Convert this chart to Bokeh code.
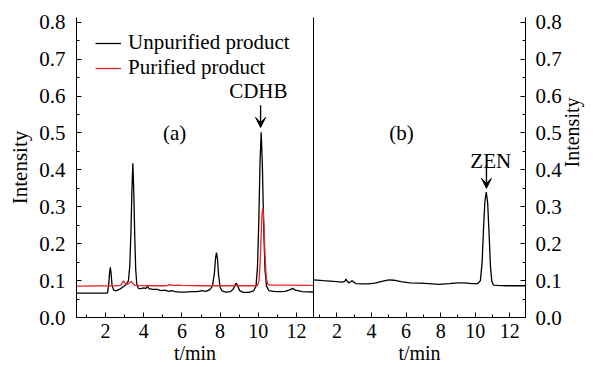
from bokeh.plotting import figure
from bokeh.layouts import row
from bokeh.models import (Range1d, LinearAxis, SingleIntervalTicker, FixedTicker, Label,
                          Arrow, VeeHead, Legend, LegendItem, NumeralTickFormatter)
from bokeh.embed import file_html
from bokeh.resources import INLINE
import math

FONT = "Liberation Serif"
FS = "21px"
FSX = "20px"

# ---- data: panel (a) ----
unpur_t = [0.48, 2.10, 2.16, 2.21, 2.25, 2.29, 2.34, 2.42, 2.55, 2.75, 2.95, 3.10, 3.20, 3.27,
           3.33, 3.38, 3.43, 3.48, 3.53, 3.58, 3.64, 3.72, 3.85, 4.00, 4.12, 4.20, 4.28, 4.45,
           4.70, 4.90, 5.10, 5.30, 5.45, 5.65, 5.90, 6.20, 6.50, 6.80, 7.05, 7.25, 7.45, 7.60,
           7.70, 7.76, 7.81, 7.86, 7.92, 8.00, 8.10, 8.30, 8.55, 8.70, 8.80, 8.85, 8.92, 9.02,
           9.20, 9.50, 9.75, 9.88, 9.96, 10.03, 10.09, 10.15, 10.21, 10.28, 10.35, 10.43, 10.55,
           10.80, 11.10, 11.40, 11.65, 11.80, 11.95, 12.30, 12.89]
unpur_i = [0.066, 0.066, 0.085, 0.120, 0.136, 0.120, 0.088, 0.075, 0.072, 0.077, 0.084, 0.090,
           0.100, 0.140, 0.230, 0.340, 0.418, 0.340, 0.220, 0.130, 0.090, 0.079, 0.078, 0.080,
           0.079, 0.085, 0.078, 0.076, 0.076, 0.073, 0.074, 0.071, 0.073, 0.070, 0.069, 0.069,
           0.070, 0.070, 0.073, 0.071, 0.075, 0.085, 0.120, 0.160, 0.176, 0.160, 0.115, 0.082,
           0.072, 0.069, 0.070, 0.078, 0.090, 0.093, 0.086, 0.073, 0.068, 0.068, 0.072, 0.085,
           0.140, 0.270, 0.420, 0.502, 0.420, 0.250, 0.130, 0.085, 0.073, 0.071, 0.070, 0.071,
           0.075, 0.079, 0.074, 0.070, 0.069]

pur_t = [0.48, 2.50, 2.80, 2.88, 2.95, 3.02, 3.15, 3.28, 3.35, 3.42, 3.55, 4.50, 5.20, 5.35,
         5.50, 5.80, 6.00, 7.00, 8.00, 9.00, 9.95, 10.04, 10.10, 10.16, 10.20, 10.24, 10.29,
         10.35, 10.42, 10.50, 10.60, 11.00, 11.60, 12.20, 12.89]
pur_i = [0.085, 0.086, 0.087, 0.095, 0.099, 0.093, 0.090, 0.095, 0.098, 0.092, 0.087, 0.086,
         0.086, 0.089, 0.087, 0.088, 0.087, 0.086, 0.086, 0.086, 0.086, 0.100, 0.150, 0.240,
         0.285, 0.296, 0.260, 0.170, 0.105, 0.090, 0.088, 0.088, 0.088, 0.087, 0.087]

# ---- data: panel (b) ----
zen_t = [0.64, 1.20, 1.80, 2.30, 2.45, 2.52, 2.58, 2.68, 2.80, 2.88, 2.96, 3.10, 3.40, 3.80,
         4.20, 4.60, 5.00, 5.30, 5.70, 6.20, 6.80, 7.30, 7.90, 8.50, 9.00, 9.40, 9.80, 10.15,
         10.30, 10.40, 10.48, 10.56, 10.64, 10.72, 10.80, 10.88, 10.96, 11.05, 11.30, 11.80,
         12.40, 12.91]
zen_i = [0.102, 0.100, 0.098, 0.096, 0.098, 0.104, 0.099, 0.094, 0.097, 0.100, 0.096, 0.092,
         0.091, 0.091, 0.093, 0.098, 0.102, 0.101, 0.097, 0.094, 0.093, 0.092, 0.090, 0.092,
         0.094, 0.094, 0.092, 0.092, 0.100, 0.150, 0.240, 0.315, 0.340, 0.310, 0.230, 0.140,
         0.098, 0.088, 0.087, 0.086, 0.086, 0.086]

y_max = 0.813


def style_axis(ax, fs=FS):
    ax.axis_line_color = "black"
    ax.axis_line_width = 1
    ax.major_tick_line_color = "black"
    ax.minor_tick_line_color = "black"
    ax.major_tick_in = 5
    ax.major_tick_out = 0
    ax.minor_tick_in = 3
    ax.minor_tick_out = 0
    ax.major_label_text_font = FONT
    ax.major_label_text_font_size = fs
    ax.major_label_text_color = "black"
    ax.axis_label_text_font = FONT
    ax.axis_label_text_font_size = fs
    ax.axis_label_text_font_style = "normal"
    ax.axis_label_text_color = "black"


def make_fig(width, x0, x1, left, right):
    p = figure(width=width, height=366, x_range=Range1d(x0, x1), y_range=Range1d(0, y_max),
               output_backend="svg", toolbar_location=None,
               x_axis_location=None, y_axis_location=None,
               min_border_left=left, min_border_right=right,
               min_border_top=17, min_border_bottom=48)
    p.outline_line_color = None
    p.xgrid.visible = False
    p.ygrid.visible = False
    p.background_fill_color = "white"
    p.border_fill_color = "white"
    xa = LinearAxis(ticker=SingleIntervalTicker(interval=2, num_minor_ticks=2),
                    axis_label="t/min")
    style_axis(xa, FSX)
    xa.major_label_standoff = 6
    xa.axis_label_standoff = 1
    p.add_layout(xa, "below")
    return p


def add_text(p, x, y, text, align="center", baseline="middle"):
    p.add_layout(Label(x=x, y=y, text=text, text_align=align, text_baseline=baseline,
                       text_font=FONT, text_font_size=FS, text_color="black"))


def y_axis(label):
    ya = LinearAxis(ticker=SingleIntervalTicker(interval=0.1, num_minor_ticks=2),
                    formatter=NumeralTickFormatter(format="0.0"), axis_label=label)
    style_axis(ya)
    return ya


# ---- panel (a) ----
pa = make_fig(313, 0.48, 12.89, 76, 0)
ya = y_axis("Intensity")
ya.major_label_standoff = 11
ya.axis_label_standoff = 4
pa.add_layout(ya, "left")

r1 = pa.line(unpur_t, unpur_i, line_color="black", line_width=1.3)
r2 = pa.line(pur_t, pur_i, line_color="#e8262a", line_width=1.3)

legend = Legend(items=[LegendItem(label="Unpurified product", renderers=[r1]),
                       LegendItem(label="Purified product", renderers=[r2])],
                location=(19, 237), orientation="vertical")
legend.border_line_color = None
legend.background_fill_alpha = 0
legend.padding = 0
legend.margin = 0
legend.spacing = -3
legend.glyph_width = 26
legend.glyph_height = 20
legend.label_height = 20
legend.label_standoff = 7
legend.label_text_font = FONT
legend.label_text_font_size = FS
legend.label_text_color = "black"
pa.add_layout(legend, "center")

add_text(pa, 5.62, 0.50, "(a)")
add_text(pa, 10.0, 0.614, "CDHB")
pa.add_layout(Arrow(end=VeeHead(size=10, fill_color="black", line_color="black"),
                    x_start=10.12, y_start=0.575, x_end=10.12, y_end=0.515,
                    line_color="black", line_width=1.4))

# ---- panel (b) ----
pb = make_fig(283, 0.64, 12.91, 0, 66)
div = LinearAxis(ticker=FixedTicker(ticks=[]))
div.major_tick_in = 0
div.major_tick_out = 0
div.minor_tick_in = 0
div.minor_tick_out = 0
div.major_label_standoff = 0
div.major_label_text_font_size = "0px"
div.axis_line_color = "black"
pb.add_layout(div, "left")
yb = y_axis("Intensity")
yb.major_label_standoff = 10
yb.axis_label_standoff = 7
yb.axis_label_text_font_size = "20px"
try:
    # read bottom-to-top, like the left-hand title
    yb.axis_label_orientation = math.pi / 2
except Exception:
    pass
pb.add_layout(yb, "right")

pb.line(zen_t, zen_i, line_color="black", line_width=1.3)
add_text(pb, 5.73, 0.50, "(b)")
add_text(pb, 10.9, 0.423, "ZEN")
pb.add_layout(Arrow(end=VeeHead(size=10, fill_color="black", line_color="black"),
                    x_start=10.65, y_start=0.412, x_end=10.65, y_end=0.35,
                    line_color="black", line_width=1.4))

layout = row(pa, pb)
open("out.html", "w").write(file_html(layout, INLINE))
